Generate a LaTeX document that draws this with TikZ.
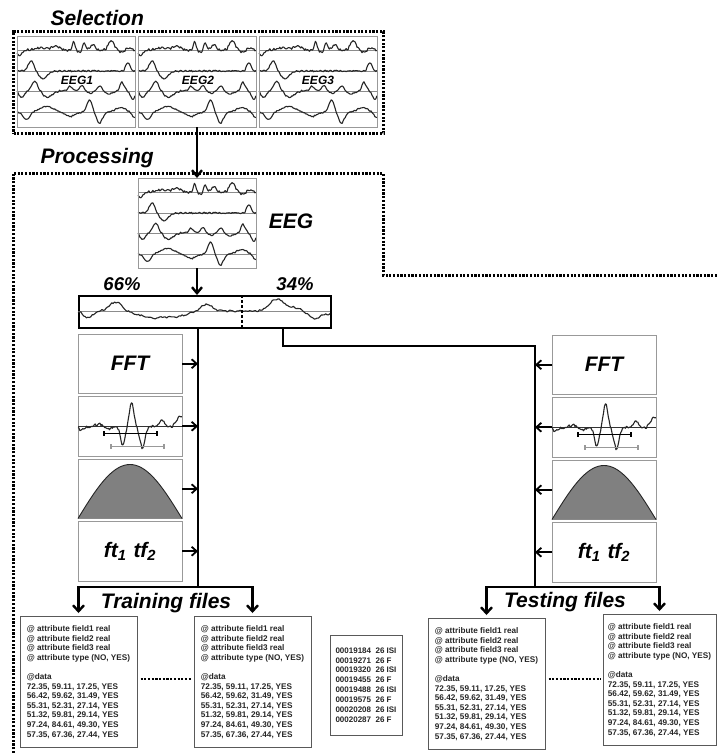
\documentclass[tikz,border=0pt]{standalone}
\usepackage{fontspec}
\setmainfont{Liberation Sans}
\usetikzlibrary{arrows.meta,calc}
\pgfmathdeclarefunction{ga}{3}{\pgfmathparse{exp(max(-9,-((#1-(#2))/(#3))*((#1-(#2))/(#3))))}}
\pgfmathdeclarefunction{nz}{2}{\pgfmathparse{0.7*rand+0.35*sin(9000*#1+#2)}}
\pgfmathdeclarefunction{ea}{1}{\pgfmathparse{-5*ga(#1,0.02,0.03)+2*ga(#1,0.2,0.06)+3*ga(#1,0.33,0.05)+7*ga(#1,0.48,0.015)+6*ga(#1,0.57,0.02)+5*ga(#1,0.64,0.025)-3*ga(#1,0.53,0.015)+8*ga(#1,0.8,0.035)-2*ga(#1,0.88,0.03)+2*ga(#1,0.95,0.03)+1.2*nz(#1,0)}}
\pgfmathdeclarefunction{eb}{1}{\pgfmathparse{9*ga(#1,0.12,0.035)-7*ga(#1,0.22,0.05)+8*ga(#1,0.94,0.025)+0.9*nz(#1,33)}}
\pgfmathdeclarefunction{ec}{1}{\pgfmathparse{-6*ga(#1,0.04,0.03)+9*ga(#1,0.15,0.035)-6*ga(#1,0.26,0.05)+4*ga(#1,0.45,0.03)+5*ga(#1,0.55,0.025)-2*ga(#1,0.62,0.03)+5*ga(#1,0.7,0.025)-3*ga(#1,0.78,0.04)+8*ga(#1,0.89,0.025)-8*ga(#1,0.98,0.025)+0.9*nz(#1,71)}}
\pgfmathdeclarefunction{ed}{1}{\pgfmathparse{-7*ga(#1,0.08,0.04)+5*ga(#1,0.25,0.08)-4*ga(#1,0.45,0.06)+11*ga(#1,0.615,0.03)-10*ga(#1,0.7,0.035)+4*ga(#1,0.88,0.06)-6*ga(#1,1.0,0.03)+0.8*nz(#1,122)}}
\pgfmathdeclarefunction{sw}{1}{\pgfmathparse{-7*ga(#1,0.04,0.025)+9*ga(#1,0.15,0.035)-7*ga(#1,0.3,0.08)-4*ga(#1,0.4,0.05)+7*ga(#1,0.51,0.03)+12*ga(#1,0.79,0.04)+3*ga(#1,0.86,0.03)-8*ga(#1,0.94,0.03)-3*ga(#1,1,0.03)+1.1*nz(#1,17)}}
\pgfmathdeclarefunction{sp}{1}{\pgfmathparse{24*ga(#1,0.515,0.03)-19*ga(#1,0.43,0.03)-21*ga(#1,0.62,0.035)+6*ga(#1,0.81,0.035)+11*ga(#1,0.98,0.04)-3*ga(#1,0.03,0.05)+3*ga(#1,0.2,0.04)-2*ga(#1,0.3,0.04)+1.6*nz(#1,70)}}
\newcommand\eegdraw{%
  \pgfmathsetseed{4242}%
  \foreach \b in {14,35,55,76}{\draw[baseln] (0,\b) -- (118,\b);}
  \draw[trace] plot[variable=\t,domain=0:1,samples=120] ({118*\t},{14-1.15*ea(\t)});
  \draw[trace] plot[variable=\t,domain=0:1,samples=120] ({118*\t},{35-1.1*eb(\t)});
  \draw[trace] plot[variable=\t,domain=0:1,samples=120] ({118*\t},{55-1.1*ec(\t)});
  \draw[trace] plot[variable=\t,domain=0:1,samples=120] ({118*\t},{76-1.1*ed(\t)});
}
\newcommand\spikedraw{%
  \pgfmathsetseed{777}%
  \draw[black!80,line width=1.1pt] (0,30) -- (104,30);
  \draw[trace] plot[variable=\t,domain=0:1,samples=110] ({104*\t},{30-sp(\t)});
  \draw[black,line width=1.3pt] (26,37) -- (79,37) (26,34.5) -- (26,39.5) (79,34.5) -- (79,39.5);
  \draw[black!40,line width=1.1pt] (33,50) -- (86,50) (33,47.5) -- (33,52.5) (86,47.5) -- (86,52.5);
  \fill[black!70] (64,52) circle (0.9);
}
\newcommand\bumpdraw{%
  \fill[black!50] plot[variable=\t,domain=0:104,samples=60] (\t,{59.5-54*cos(90*(\t-52)/52)}) -- cycle;
  \draw[black!85,line width=0.9pt] plot[variable=\t,domain=0:104,samples=60] (\t,{59.5-54*cos(90*(\t-52)/52)});
}
\newcommand\arfftext{@ attribute field1 real\\ @ attribute field2 real\\ @ attribute field3 real\\ @ attribute type (NO, YES)\\[9.6pt] @data\\ 72.35, 59.11, 17.25, YES\\ 56.42, 59.62, 31.49, YES\\ 55.31, 52.31, 27.14, YES\\ 51.32, 59.81, 29.14, YES\\ 97.24, 84.61, 49.30, YES\\ 57.35, 67.36, 27.44, YES}
\begin{document}
\begin{tikzpicture}[x=1pt,y=-1pt,
  trace/.style={line width=1.1pt, draw=black!85, line join=round},
  baseln/.style={draw=black!45, line width=0.7pt},
  panel/.style={draw=black!40, line width=1pt, inner sep=0pt, outer sep=0pt, minimum width=118pt, minimum height=91pt, anchor=north west},
  featbox/.style={draw=black!40, line width=1pt, inner sep=0pt, outer sep=0pt, minimum width=104pt, minimum height=59.5pt, anchor=north west},
  dotframe/.style={line width=3pt, dash pattern=on 2.2pt off 1.5pt},
  dotline/.style={line width=2.8pt, dash pattern=on 2.2pt off 1.5pt},
  title/.style={font=\fontsize{21}{24}\selectfont\bfseries\itshape},
  pct/.style={font=\fontsize{18.5}{20}\selectfont\bfseries\itshape},
  eeglbl/.style={font=\fontsize{12}{14}\selectfont\bfseries\itshape},
  flow/.style={line width=2.4pt},
  headtip/.style={-{Straight Barb[length=6pt,width=10pt]}},
  farrow/.style={line width=1.8pt, -{Straight Barb[length=5pt,width=9pt]}},
  bigtip/.style={{Straight Barb[length=6pt,width=11pt]}-{Straight Barb[length=6pt,width=11pt]}},
  filebox/.style={draw=black!65, line width=1pt, minimum width=117pt, minimum height=131pt, align=left, font=\fontsize{8.2}{9.6}\selectfont\bfseries, text=black!85, inner sep=0pt},
]
\useasboundingbox (0,0) rectangle (717,753);
\fill[white] (0,0) rectangle (717,753);

% ---------------- Selection ----------------
\node[title, anchor=base west] (seltitle) at (47,25) {Selection};
\node[dotframe, draw, anchor=north west, minimum width=370pt, minimum height=102pt, inner sep=0pt] (selframe) at (12,30) {};
\begin{scope}[shift={(17,36)}]\eegdraw\end{scope}
\begin{scope}[shift={(138,36)}]\eegdraw\end{scope}
\begin{scope}[shift={(259,36)}]\eegdraw\end{scope}
\node[panel] (s1) at (17,36) {};
\node[panel] (s2) at (138,36) {};
\node[panel] (s3) at (259,36) {};
\node[eeglbl] (l1) at (77,80) {EEG1};
\node[eeglbl] (l2) at (198,80) {EEG2};
\node[eeglbl] (l3) at (318,80) {EEG3};

% ---------------- Processing ----------------
\node[title, anchor=base west] (proctitle) at (37,163) {Processing};
\draw[dotframe] (13,753) -- (13,173) -- (383,173) -- (383,275) -- (717,275);

\begin{scope}[shift={(138,178)}]\eegdraw\end{scope}
\node[panel, minimum height=90pt] (eeg) at (138,178) {};
\node[title] (eegl) at (291,221) {EEG};
\draw[flow, headtip] (s2.south) -- (eeg.north);

\node[pct] (p66) at (122,284) {66\%};
\node[pct] (p34) at (295,284) {34\%};

\node[draw, line width=2pt, anchor=north west, minimum width=252pt, minimum height=32pt, inner sep=0pt] (split) at (78,295) {};
\begin{scope}[shift={(78,295)}]
  \pgfmathsetseed{99}
  \draw[baseln] (0,16) -- (252,16);
  \draw[trace] plot[variable=\t,domain=0:1,samples=180] ({252*\t},{16-sw(\t)});
  \draw[black, line width=1.2pt, dash pattern=on 3pt off 2pt] (164,0) -- (164,32);
\end{scope}
\draw[flow, headtip] (eeg.south) -- (eeg.south |- split.north);

% trunks
\coordinate (trunk) at (198,587);
\coordinate (tsbend) at (283,346);
\coordinate (tstrunk) at (535,587);
\draw[flow] (trunk |- split.south) -- (trunk);
\draw[flow] (tsbend |- split.south) -- (tsbend) -| (tstrunk);

% left feature boxes
\node[featbox] (fl1) at (78,334) {};
\node[featbox] (fl2) at (78,396.5) {};
\node[featbox] (fl3) at (78,459) {};
\node[featbox] (fl4) at (78,521.5) {};
\node[title] at (fl1.center) {FFT};
\node[title] at (fl4.center) {ft\textsubscript{1}\hspace{7pt}tf\textsubscript{2}};
\begin{scope}[shift={(78,396.5)}]\spikedraw\end{scope}
\begin{scope}[shift={(78,459)}]\bumpdraw\end{scope}
\draw[farrow] (fl1.east) -- (fl1.east -| trunk);
\draw[farrow] (fl2.east) -- (fl2.east -| trunk);
\draw[farrow] (fl3.east) -- (fl3.east -| trunk);
\draw[farrow] (fl4.east) -- (fl4.east -| trunk);

% right feature boxes
\node[featbox] (fr1) at (552,335) {};
\node[featbox] (fr2) at (552,397.5) {};
\node[featbox] (fr3) at (552,460) {};
\node[featbox] (fr4) at (552,522.5) {};
\node[title] at (fr1.center) {FFT};
\node[title] at (fr4.center) {ft\textsubscript{1}\hspace{7pt}tf\textsubscript{2}};
\begin{scope}[shift={(552,397.5)}]\spikedraw\end{scope}
\begin{scope}[shift={(552,460)}]\bumpdraw\end{scope}
\draw[farrow] (fr1.west) -- (fr1.west -| tstrunk);
\draw[farrow] (fr2.west) -- (fr2.west -| tstrunk);
\draw[farrow] (fr3.west) -- (fr3.west -| tstrunk);
\draw[farrow] (fr4.west) -- (fr4.west -| tstrunk);

% ---------------- files ----------------
\node[filebox] (tr1) at (78.5,682) {\arfftext};
\node[filebox] (tr2) at (252.5,682) {\arfftext};
\node[filebox, minimum width=72pt, minimum height=100pt, font=\fontsize{8}{9.9}\selectfont\bfseries] (mid) at (366,685)
  {00019184\ \ 26 ISI\\ 00019271\ \ 26 F\\ 00019320\ \ 26 ISI\\ 00019455\ \ 26 F\\ 00019488\ \ 26 ISI\\ 00019575\ \ 26 F\\ 00020208\ \ 26 ISI\\ 00020287\ \ 26 F};
\node[filebox] (te1) at (486.5,684) {\arfftext};
\node[filebox, minimum width=113pt] (te2) at (659.5,680) {\arfftext};
\draw[dotline] ([xshift=3pt]tr1.east |- 0,679) -- ([xshift=-2pt]tr2.west |- 0,679);
\draw[dotline] ([xshift=3pt]te1.east |- 0,679) -- ([xshift=-2pt]te2.west |- 0,679);

\coordinate (trbar) at (166,587);
\coordinate (tsbar) at (565,587);
\draw[flow, bigtip] ($(tr1.north)+(0,-3)$) -- (tr1.north |- trbar) -- (tr2.north |- trbar) -- ($(tr2.north)+(0,-3)$);
\draw[flow, bigtip] ($(te1.north)+(0,-3)$) -- (te1.north |- tsbar) -- (te2.north |- tsbar) -- ($(te2.north)+(0,-3)$);
\node[title, anchor=base] (trhdr) at (166,608) {Training files};
\node[title, anchor=base] (tshdr) at (565,607) {Testing files};
\end{tikzpicture}
\end{document}
